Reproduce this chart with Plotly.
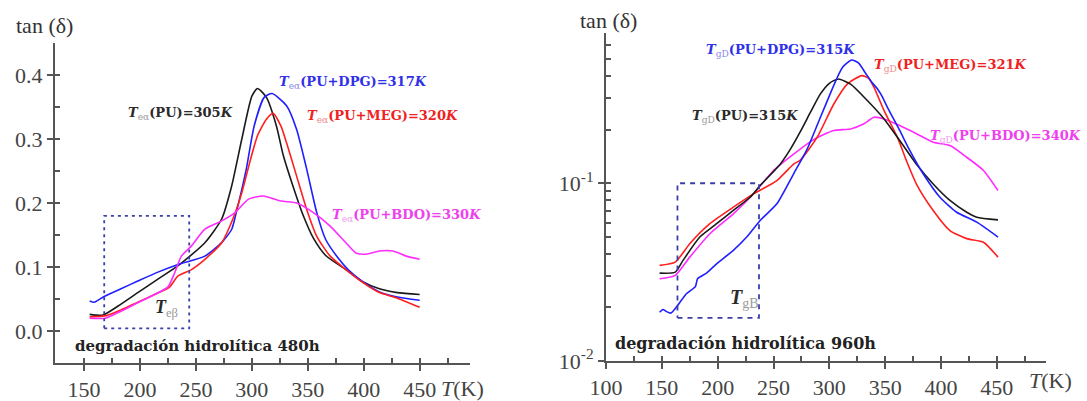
import math
import plotly.graph_objects as go

W, H = 1087, 401

# ---------------- data: hydrolytic degradation 480 h (linear tan δ) ----------------
T_pu_480 = [155, 167, 183, 198, 216, 234, 258, 273, 282, 291, 300, 305, 313, 322, 328, 337,
            346, 355, 366, 384, 399, 414, 430, 450]
tan_pu_480 = [0.026, 0.025, 0.042, 0.060, 0.081, 0.102, 0.138, 0.175, 0.227, 0.300, 0.367, 0.379,
              0.365, 0.320, 0.275, 0.225, 0.180, 0.145, 0.118, 0.096, 0.077, 0.066, 0.060, 0.057]

T_dpg_480 = [155, 159, 168, 183, 198, 216, 234, 258, 273, 282, 286, 295, 302, 311, 318, 331,
             340, 349, 358, 366, 378, 386, 399, 414, 430, 450]
tan_dpg_480 = [0.047, 0.045, 0.054, 0.066, 0.078, 0.092, 0.104, 0.117, 0.138, 0.159, 0.185, 0.253,
               0.320, 0.365, 0.371, 0.352, 0.315, 0.253, 0.185, 0.143, 0.112, 0.096, 0.077, 0.061,
               0.053, 0.048]

T_meg_480 = [155, 170, 183, 198, 213, 226, 234, 246, 258, 273, 283, 291, 298, 305, 313, 319,
             326, 331, 340, 349, 358, 370, 384, 399, 414, 429, 450]
tan_meg_480 = [0.022, 0.024, 0.033, 0.045, 0.057, 0.068, 0.086, 0.096, 0.112, 0.138, 0.175, 0.216,
               0.263, 0.305, 0.331, 0.340, 0.320, 0.294, 0.242, 0.190, 0.148, 0.117, 0.096, 0.076,
               0.060, 0.052, 0.037]

T_bdo_480 = [155, 169, 183, 198, 213, 225, 231, 237, 246, 258, 273, 285, 297, 310, 326, 340,
             355, 370, 384, 393, 402, 414, 426, 438, 450]
tan_bdo_480 = [0.020, 0.020, 0.031, 0.044, 0.057, 0.069, 0.091, 0.117, 0.133, 0.159, 0.172, 0.185,
               0.206, 0.211, 0.203, 0.200, 0.185, 0.164, 0.138, 0.122, 0.120, 0.125, 0.125, 0.117,
               0.112]

# ---------------- data: hydrolytic degradation 960 h (log tan δ) ----------------
T_pu_960 = [148, 162, 169, 184, 199, 214, 229, 238, 256, 265, 274, 283, 292, 300, 308, 319,
            334, 349, 363, 378, 393, 408, 423, 432, 451]
tan_pu_960 = [0.0312, 0.0316, 0.0368, 0.0498, 0.0592, 0.0703, 0.0834, 0.097, 0.128, 0.155, 0.195,
              0.250, 0.318, 0.365, 0.386, 0.361, 0.292, 0.230, 0.174, 0.128, 0.099, 0.080, 0.0687,
              0.0644, 0.0622]

T_dpg_960 = [148, 151, 154, 158, 163, 172, 180, 182, 190, 199, 214, 226, 238, 253, 268, 280,
             292, 300, 306, 312, 320, 326, 332, 338, 343, 347, 352, 363, 372, 384, 399, 414, 432, 451]
tan_dpg_960 = [0.0188, 0.0195, 0.0190, 0.0186, 0.0201, 0.0239, 0.0262, 0.0290, 0.0312, 0.0352,
               0.0419, 0.0498, 0.0617, 0.0766, 0.113, 0.155, 0.235, 0.310, 0.380, 0.450, 0.493,
               0.475, 0.420, 0.370, 0.340, 0.310, 0.267, 0.198, 0.153, 0.113, 0.0834, 0.0687,
               0.0604, 0.0498]

T_meg_960 = [148, 162, 175, 193, 214, 232, 253, 268, 274, 289, 304, 316, 329, 335, 340, 349,
             361, 369, 378, 393, 408, 423, 438, 451]
tan_meg_960 = [0.0345, 0.036, 0.0457, 0.0592, 0.0733, 0.0871, 0.1035, 0.128, 0.135, 0.181, 0.279,
               0.361, 0.403, 0.390, 0.346, 0.256, 0.181, 0.134, 0.099, 0.0703, 0.0542, 0.0488,
               0.0466, 0.0384]

T_bdo_960 = [148, 162, 175, 193, 214, 232, 250, 268, 286, 304, 319, 331, 340, 349, 363, 378,
             393, 408, 423, 438, 451]
tan_bdo_960 = [0.029, 0.0303, 0.0384, 0.052, 0.0673, 0.087, 0.118, 0.146, 0.176, 0.198, 0.202,
               0.216, 0.235, 0.230, 0.211, 0.190, 0.170, 0.163, 0.140, 0.118, 0.091]

# dashed boxes marking the low-temperature (beta) transition: [T0, T1, tan0, tan1]
box_480 = [168, 244, 0.004, 0.18]
box_960 = [164, 237, 0.0175, 0.1]

# axis ticks
x_ticks = [100, 150, 200, 250, 300, 350, 400, 450]
x_ticks_480 = [150, 200, 250, 300, 350, 400, 450]
x_minor_480 = [175, 225, 275, 325, 375, 425, 475]
x_minor_960 = [125, 175, 225, 275, 325, 375, 425, 475]
y_ticks_480 = [0.0, 0.1, 0.2, 0.3, 0.4]
y_ticks_480_text = ["0.0", "0.1", "0.2", "0.3", "0.4"]
y_minor_480 = [0.05, 0.15, 0.25, 0.35]
y_ticks_960 = [0.01, 0.1]
y_ticks_960_text = ["10<sup>-2</sup>", "10<sup>-1</sup>"]
y_minor_960 = [m * 0.01 for m in range(2, 10)] + [m * 0.1 for m in range(2, 8)]

COL = {"PU": "#1a1a1a", "DPG": "#1f1fff", "MEG": "#ff1f1f", "BDO": "#ff2cff"}
SERIF = "Liberation Serif, Times New Roman, serif"
WIDE_SERIF = "DejaVu Serif, serif"
AXC = "#555555"
TICKC = "#444444"


def px_x(x):
    return x / W


def px_y(y):
    return 1 - y / H


fig = go.Figure()

left_series = [("PU", T_pu_480, tan_pu_480), ("DPG", T_dpg_480, tan_dpg_480),
               ("MEG", T_meg_480, tan_meg_480), ("BDO", T_bdo_480, tan_bdo_480)]
right_series = [("BDO", T_bdo_960, tan_bdo_960), ("MEG", T_meg_960, tan_meg_960),
                ("PU", T_pu_960, tan_pu_960), ("DPG", T_dpg_960, tan_dpg_960)]

for name, t, v in left_series:
    fig.add_trace(go.Scatter(x=t, y=v, mode="lines",
                             line=dict(color=COL[name], width=1.6, shape="spline", smoothing=0.6),
                             xaxis="x", yaxis="y", showlegend=False, hoverinfo="skip"))
for name, t, v in right_series:
    fig.add_trace(go.Scatter(x=t, y=v, mode="lines",
                             line=dict(color=COL[name], width=1.6, shape="spline", smoothing=0.6),
                             xaxis="x2", yaxis="y2", showlegend=False, hoverinfo="skip"))

# dashed boxes
for box, xa, ya, dash in [(box_480, "x", "y", "3px,4px"), (box_960, "x2", "y2", "5px,5px")]:
    t0, t1, v0, v1 = box
    fig.add_trace(go.Scatter(x=[t0, t1, t1, t0, t0], y=[v0, v0, v1, v1, v0], mode="lines",
                             line=dict(color="#3a3fa8", width=1.8, dash=dash),
                             xaxis=xa, yaxis=ya, showlegend=False, hoverinfo="skip"))

# empty traces so the overlay tick axes are drawn
fig.add_trace(go.Scatter(x=[], y=[], xaxis="x3", yaxis="y3", showlegend=False))
fig.add_trace(go.Scatter(x=[], y=[], xaxis="x4", yaxis="y4", showlegend=False))

L_dom_x = [55 / W, 470 / W]
L_dom_y = [1 - 363 / H, 1 - 43 / H]
R_dom_x = [606 / W, 1046 / W]
R_dom_y = [1 - 361 / H, 1 - 33 / H]
x_range = [124, 495]
x_range_r = [100, 494]
y_range_l = [-0.05, 0.45]
y_range_r = [-2, math.log10(0.7)]

tickfont = dict(family=SERIF, size=22, color=TICKC)
main_axis = dict(showline=True, linecolor=AXC, linewidth=2, ticks="outside", ticklen=6,
                 tickwidth=2, tickcolor=AXC, showgrid=False, zeroline=False, tickfont=tickfont,
                 tickmode="array", automargin=False)
over_axis = dict(showline=False, ticks="inside", ticklen=5, tickwidth=1.5, tickcolor=AXC,
                 showgrid=False, zeroline=False, showticklabels=False, tickmode="array",
                 automargin=False)

fig.update_layout(
    width=W, height=H, margin=dict(l=0, r=0, t=0, b=0),
    paper_bgcolor="white", plot_bgcolor="rgba(0,0,0,0)",
    xaxis=dict(main_axis, domain=L_dom_x, range=x_range, anchor="y",
               tickvals=x_ticks_480, ticktext=[str(v) for v in x_ticks_480]),
    yaxis=dict(main_axis, domain=L_dom_y, range=y_range_l, anchor="x",
               tickvals=y_ticks_480, ticktext=y_ticks_480_text),
    xaxis3=dict(over_axis, overlaying="x", range=x_range, anchor="y3",
                tickvals=x_ticks_480 + x_minor_480),
    yaxis3=dict(over_axis, overlaying="y", range=y_range_l, anchor="x3",
                tickvals=y_ticks_480 + y_minor_480),
    xaxis2=dict(main_axis, domain=R_dom_x, range=x_range_r, anchor="y2",
                tickvals=x_ticks, ticktext=[str(v) for v in x_ticks]),
    yaxis2=dict(main_axis, domain=R_dom_y, range=y_range_r, anchor="x2", type="log",
                tickvals=y_ticks_960, ticktext=y_ticks_960_text),
    xaxis4=dict(over_axis, overlaying="x2", range=x_range_r, anchor="y4",
                tickvals=x_ticks + x_minor_960),
    yaxis4=dict(over_axis, overlaying="y2", range=y_range_r, anchor="x4", type="log",
                tickvals=y_ticks_960 + y_minor_960),
)


def label(text, x, y, size=14, color="#222", xanchor="center", family=SERIF):
    fig.add_annotation(text=text, x=px_x(x), y=px_y(y), xref="paper", yref="paper",
                       showarrow=False, xanchor=xanchor, yanchor="middle",
                       font=dict(family=family, size=size, color=color))


def tlabel(sub, rest, color, subcolor, x, y, size=13, family=WIDE_SERIF):
    txt = ("<b><i>T</i></b><sub><span style='color:%s'>%s</span></sub>"
           "<b>%s</b>" % (subcolor, sub, rest))
    label(txt, x, y, size=size, color=color, family=family)


# axis titles
label("tan (δ)", 44, 25, size=22, color="#333")
label("tan (δ)", 608, 21, size=22, color="#333")
label("<i>T</i>(K)", 462, 388, size=22, color=TICKC)
label("<i>T</i>(K)", 1050, 380, size=22, color=TICKC)

# panel captions
label("<b>degradación hidrolítica 480h</b>", 197, 346, size=15, color="#222", family=WIDE_SERIF)
label("<b>degradación hidrolítica 960h</b>", 745, 343, size=16, color="#222", family=WIDE_SERIF)

# transition labels, 480 h
tlabel("eα", "(PU)=305<i>K</i>", "#2a2a2a", "#9a9a9a", 180, 113)
tlabel("eα", "(PU+DPG)=317<i>K</i>", "#3030e8", "#8a8ae8", 353, 82)
tlabel("eα", "(PU+MEG)=320<i>K</i>", "#ee2222", "#f08a8a", 382, 117)
tlabel("eα", "(PU+BDO)=330<i>K</i>", "#ee40ee", "#f0a0f0", 406, 215)
tlabel("eβ", "", "#2a2a2a", "#9a9a9a", 166, 308, size=18, family=SERIF)

# transition labels, 960 h
tlabel("gD", "(PU+DPG)=315<i>K</i>", "#3030e8", "#8a8ae8", 780, 50)
tlabel("gD", "(PU+MEG)=321<i>K</i>", "#ee2222", "#f08a8a", 950, 65)
tlabel("gD", "(PU)=315<i>K</i>", "#2a2a2a", "#9a9a9a", 745, 117)
tlabel("gD", "(PU+BDO)=340<i>K</i>", "#ee40ee", "#f0a0f0", 1005, 137)
tlabel("gB", "", "#2a2a2a", "#9a9a9a", 744, 298, size=20, family=SERIF)

fig.write_html("out.html")
